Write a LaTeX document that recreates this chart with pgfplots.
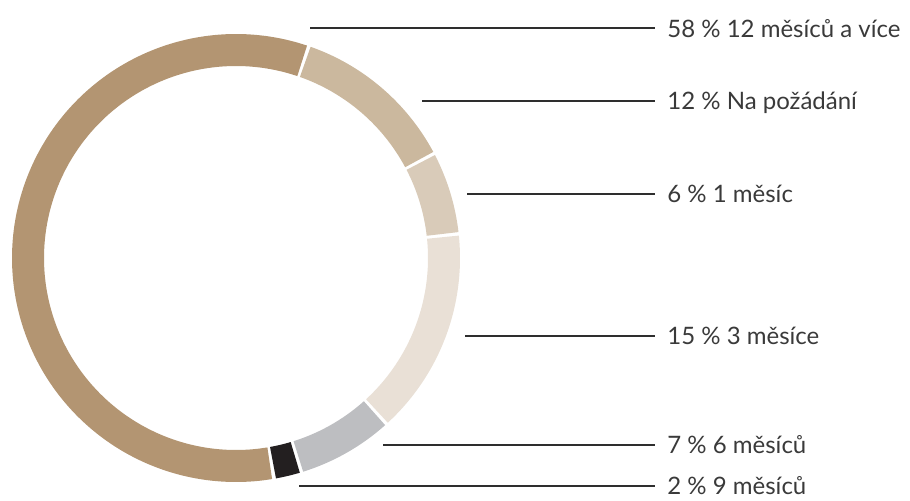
\documentclass[border=0pt]{standalone}
\usepackage{pgfplots}
\pgfplotsset{compat=1.18}
\usepackage{fontspec}
\setmainfont{Lato}
\definecolor{cA}{HTML}{B39572}
\definecolor{cB}{HTML}{CBB89E}
\definecolor{cC}{HTML}{D9CBB9}
\definecolor{cD}{HTML}{E9E0D6}
\definecolor{cE}{HTML}{BDBEC1}
\definecolor{cF}{HTML}{231F20}
\definecolor{txt}{HTML}{3A3A3A}
\definecolor{ln}{HTML}{2E2E2E}
% cumulative angle (math degrees), start of first segment
\gdef\cum{71}
\newcommand\seg[2]{%
  \pgfmathsetmacro\segA{\cum-0.45}%
  \pgfmathsetmacro\segB{\cum-3.6*#1+0.45}%
  \edef\temp{\noexpand\addplot[draw=#2, line width=16pt, line cap=butt, domain=\segB:\segA, samples=80, smooth=false] ({208*cos(x)+236},{208*sin(x)+242});}%
  \temp
  \pgfmathsetmacro\newcum{\cum-3.6*#1}%
  \xdef\cum{\newcum}%
}
\newcommand\lab[4]{%
  \addplot[draw=ln, line width=0.75pt] coordinates {(#1,#2) (655,#2)};
  \node[anchor=base west, inner sep=0pt, text=txt, font=\fontsize{12}{14}\selectfont] at (axis cs:667,#3) {#4};
}
\begin{document}
\begin{tikzpicture}
\begin{axis}[width=455pt, height=250pt, scale only axis,
  xmin=0, xmax=910, ymin=0, ymax=500, hide axis, clip=false]
\addplot[draw=none] coordinates {(0,0) (910,500)};
% values in percent, clockwise
\seg{12}{cB}
\seg{6}{cC}
\seg{15}{cD}
\seg{7}{cE}
\seg{2}{cF}
\seg{58}{cA}
\lab{310}{472}{463}{58 \% 12 měsíců a více}
\lab{422}{399}{391}{12 \% Na požádání}
\lab{467}{306}{298}{6 \% 1 měsíc}
\lab{465}{164}{156}{15 \% 3 měsíce}
\lab{383}{55}{47}{7 \% 6 měsíců}
\lab{299}{14}{6}{2 \% 9 měsíců}
\end{axis}
\end{tikzpicture}
\end{document}
